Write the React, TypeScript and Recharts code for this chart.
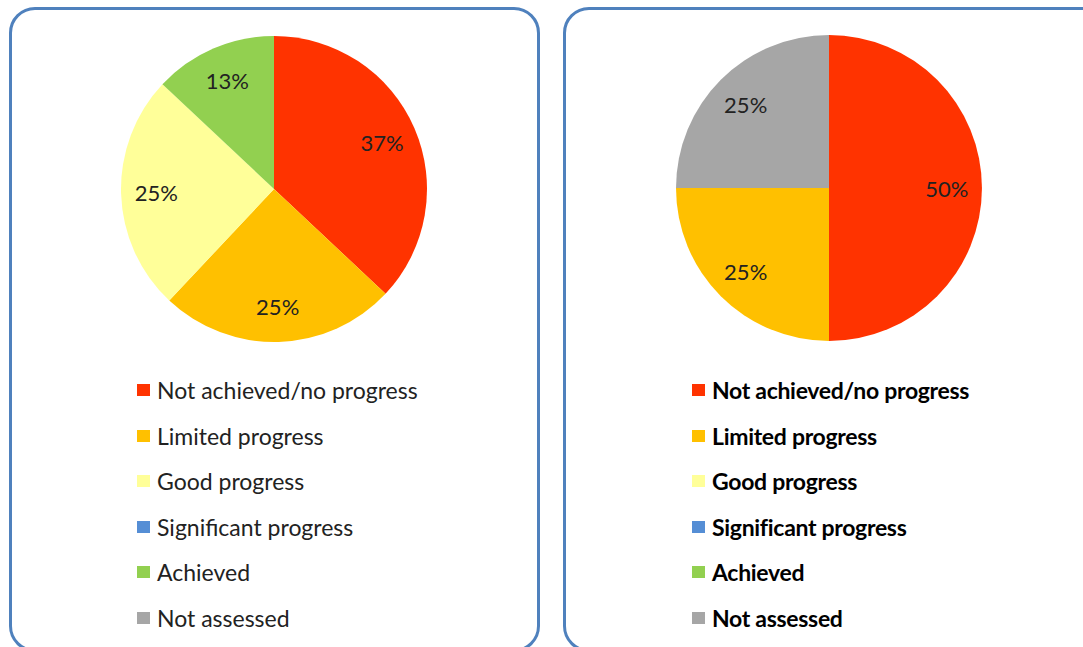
import React from "react";
import { PieChart, Pie, Cell, Legend } from "recharts";

// progress categories, shared by both panels
const categories = [
  "Not achieved/no progress",
  "Limited progress",
  "Good progress",
  "Significant progress",
  "Achieved",
  "Not assessed",
];
const categoryColors = ["#ff3300", "#ffc000", "#ffff99", "#558ed5", "#92d050", "#a6a6a6"];

// share of targets per category (%)
const leftShares = [37, 25, 25, 0, 13, 0];
const rightShares = [50, 25, 0, 0, 0, 25];

const RAD = Math.PI / 180;
const FONT = "Lato, 'Open Sans', sans-serif";
const MARGIN = 5; // recharts default chart margin, cx/cy are measured from it

const renderLabel = (props: any) => {
  const { cx, cy, midAngle, outerRadius, value } = props;
  const r = outerRadius * 0.77;
  const x = cx + r * Math.cos(-midAngle * RAD);
  const y = cy + r * Math.sin(-midAngle * RAD);
  return (
    <text
      x={x}
      y={y}
      fill="#222"
      fontSize={22}
      fontFamily={FONT}
      textAnchor="middle"
      dominantBaseline="central"
    >
      {value}%
    </text>
  );
};

function LegendList({ bold }: { bold: boolean }) {
  return (
    <div style={{ position: "relative", width: 400, height: 280, fontFamily: FONT }}>
      {categories.map((name, i) => (
        <div
          key={name}
          style={{
            position: "absolute",
            left: 0,
            top: i * 45.5,
            height: 46,
            display: "flex",
            alignItems: "center",
            whiteSpace: "nowrap",
          }}
        >
          <span
            style={{
              display: "inline-block",
              width: 13,
              height: 12,
              background: categoryColors[i],
              marginRight: 7,
            }}
          />
          <span
            style={{
              fontSize: 23,
              color: bold ? "#000" : "#222",
              fontWeight: bold ? 700 : 400,
              letterSpacing: bold ? -0.3 : 0,
            }}
          >
            {name}
          </span>
        </div>
      ))}
    </div>
  );
}

function Panel({
  shares,
  offsetX,
  cx,
  cy,
  bold,
}: {
  shares: number[];
  offsetX: number;
  cx: number;
  cy: number;
  bold: boolean;
}) {
  const data = categories
    .map((name, i) => ({ name, value: shares[i], color: categoryColors[i] }))
    .filter((d) => d.value > 0);

  return (
    <div style={{ position: "absolute", left: offsetX, top: 0, width: 540, height: 647 }}>
      <PieChart width={540} height={647}>
        <Pie
          data={data}
          dataKey="value"
          nameKey="name"
          cx={cx - MARGIN}
          cy={cy - MARGIN}
          outerRadius={153}
          startAngle={90}
          endAngle={-270}
          stroke="none"
          label={renderLabel}
          labelLine={false}
          isAnimationActive={false}
        >
          {data.map((d) => (
            <Cell key={d.name} fill={d.color} />
          ))}
        </Pie>
        <Legend
          content={() => <LegendList bold={bold} />}
          wrapperStyle={{ position: "absolute", left: cx - 137, top: 367, width: 400 }}
        />
      </PieChart>
    </div>
  );
}

export default function App() {
  const border = {
    position: "absolute" as const,
    top: 7,
    height: 645,
    border: "3px solid #4f81bd",
    borderRadius: 26,
    boxSizing: "border-box" as const,
  };

  return (
    <div
      style={{
        position: "absolute",
        left: 0,
        top: 0,
        width: 1083,
        height: 647,
        overflow: "hidden",
        background: "#fff",
      }}
    >
      <div style={{ ...border, left: 9, width: 531 }} />
      <div style={{ ...border, left: 563, width: 545 }} />
      <Panel shares={leftShares} offsetX={0} cx={274} cy={189} bold={false} />
      <Panel shares={rightShares} offsetX={543} cx={286} cy={188} bold={true} />
    </div>
  );
}
